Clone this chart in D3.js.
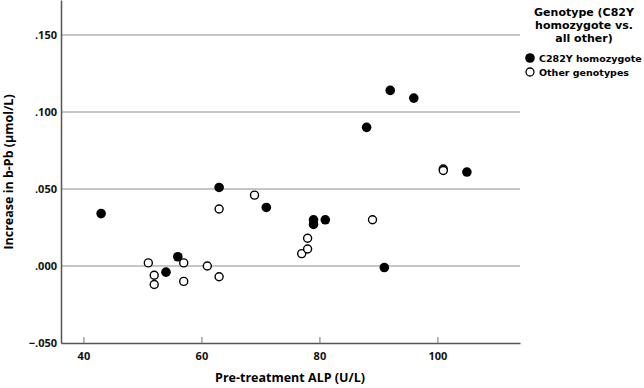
<!DOCTYPE html>
<html>
<head>
<meta charset="utf-8">
<script src="https://cdn.jsdelivr.net/npm/d3@7"></script>
<style>
  body { margin: 0; background: #fff; }
  svg { display: block; font-family: "Open Sans", sans-serif; }
</style>
</head>
<body>
<div id="chart"></div>
<script>
// C282Y homozygotes (filled)
const homoX = [43, 54, 56, 63, 71, 79, 79, 81, 88, 91, 92, 96, 105];
const homoY = [0.034, -0.004, 0.006, 0.051, 0.038, 0.030, 0.027, 0.030, 0.090, -0.001, 0.114, 0.109, 0.061];
// other genotypes (open)
const otherX = [51, 52, 52, 57, 57, 61, 63, 63, 69, 77, 78, 78, 89, 101, 101];
const otherY = [0.002, -0.006, -0.012, 0.002, -0.010, 0.000, -0.007, 0.037, 0.046, 0.008, 0.011, 0.018, 0.030, 0.063, 0.062];

const xTicks = [40, 60, 80, 100];
const yTicks = [-0.05, 0, 0.05, 0.10, 0.15];
const legendTitle = ['Genotype (C82Y', 'homozygote vs.', 'all other)'];
const legendLabels = ['C282Y homozygote', 'Other genotypes'];

const width = 644, height = 388;
const plot = { left: 61, right: 520, top: 0, bottom: 343 };

const svg = d3.select('#chart').append('svg')
    .attr('width', width)
    .attr('height', height);

const x = d3.scaleLinear().domain([36.2, 114]).range([plot.left, plot.right]);
const y = d3.scaleLinear().domain([-0.05, 0.1727]).range([plot.bottom, plot.top]);

const fmt = v => d3.format('.3f')(v).replace('0.', '.');

// gridlines
svg.append('g')
    .selectAll('line')
    .data(yTicks.filter(d => d > -0.05))
    .enter()
    .append('line')
    .attr('x1', plot.left)
    .attr('x2', plot.right)
    .attr('y1', d => y(d))
    .attr('y2', d => y(d))
    .attr('stroke', '#b3b3b3')
    .attr('stroke-width', 1.5);

// y axis
const yAxis = svg.append('g')
    .attr('transform', `translate(${plot.left},0)`)
    .call(d3.axisLeft(y).tickValues(yTicks).tickFormat(fmt).tickSize(0).tickPadding(4));
yAxis.select('.domain').attr('stroke', '#555').attr('stroke-width', 1.5);
yAxis.selectAll('text')
    .attr('font-size', 11)
    .attr('font-weight', 700)
    .attr('fill', '#111')
    .attr('font-family', '"Open Sans", sans-serif');

// x axis (ticks point inward)
const xAxis = svg.append('g')
    .attr('transform', `translate(0,${plot.bottom})`)
    .call(d3.axisBottom(x).tickValues(xTicks).tickSizeInner(-6).tickSizeOuter(0).tickPadding(9));
xAxis.select('.domain').attr('stroke', '#555').attr('stroke-width', 1.5);
xAxis.selectAll('.tick line').attr('stroke', '#888').attr('stroke-width', 1.2);
xAxis.selectAll('text')
    .attr('font-size', 11)
    .attr('font-weight', 700)
    .attr('fill', '#111')
    .attr('font-family', '"Open Sans", sans-serif');

// axis titles
svg.append('text')
    .attr('x', 290)
    .attr('y', 382)
    .attr('text-anchor', 'middle')
    .attr('font-size', 12.5)
    .attr('font-weight', 700)
    .text('Pre-treatment ALP (U/L)');

svg.append('text')
    .attr('transform', 'rotate(-90)')
    .attr('x', -172)
    .attr('y', 13)
    .attr('text-anchor', 'middle')
    .attr('font-size', 12.5)
    .attr('font-weight', 700)
    .text('Increase in b-Pb (µmol/L)');

// points
const homo = homoX.map((v, i) => ({ x: v, y: homoY[i] }));
const other = otherX.map((v, i) => ({ x: v, y: otherY[i] }));

svg.append('g')
    .selectAll('circle')
    .data(homo)
    .enter()
    .append('circle')
    .attr('cx', d => x(d.x))
    .attr('cy', d => y(d.y))
    .attr('r', 4.8)
    .attr('fill', '#000');

svg.append('g')
    .selectAll('circle')
    .data(other)
    .enter()
    .append('circle')
    .attr('cx', d => x(d.x))
    .attr('cy', d => y(d.y))
    .attr('r', 4)
    .attr('fill', '#fff')
    .attr('stroke', '#000')
    .attr('stroke-width', 1.4);

// legend title, three centred lines
svg.append('text')
    .attr('font-family', '"DejaVu Sans", sans-serif')
    .attr('font-size', 11)
    .attr('font-weight', 700)
    .attr('text-anchor', 'middle')
    .selectAll('tspan')
    .data(legendTitle)
    .enter()
    .append('tspan')
    .attr('x', 584)
    .attr('y', (d, i) => 16 + i * 13)
    .text(d => d);

const legend = svg.append('g')
    .selectAll('g')
    .data(legendLabels)
    .enter()
    .append('g')
    .attr('transform', (d, i) => `translate(530,${58 + i * 14})`);

legend.append('circle')
    .attr('r', (d, i) => i === 0 ? 4.8 : 4)
    .attr('fill', (d, i) => i === 0 ? '#000' : '#fff')
    .attr('stroke', '#000')
    .attr('stroke-width', (d, i) => i === 0 ? 0 : 1.3);

legend.append('text')
    .attr('x', 9)
    .attr('y', 3.5)
    .attr('font-family', '"DejaVu Sans", sans-serif')
    .attr('font-size', 9.5)
    .attr('font-weight', 700)
    .text(d => d);
</script>
</body>
</html>
